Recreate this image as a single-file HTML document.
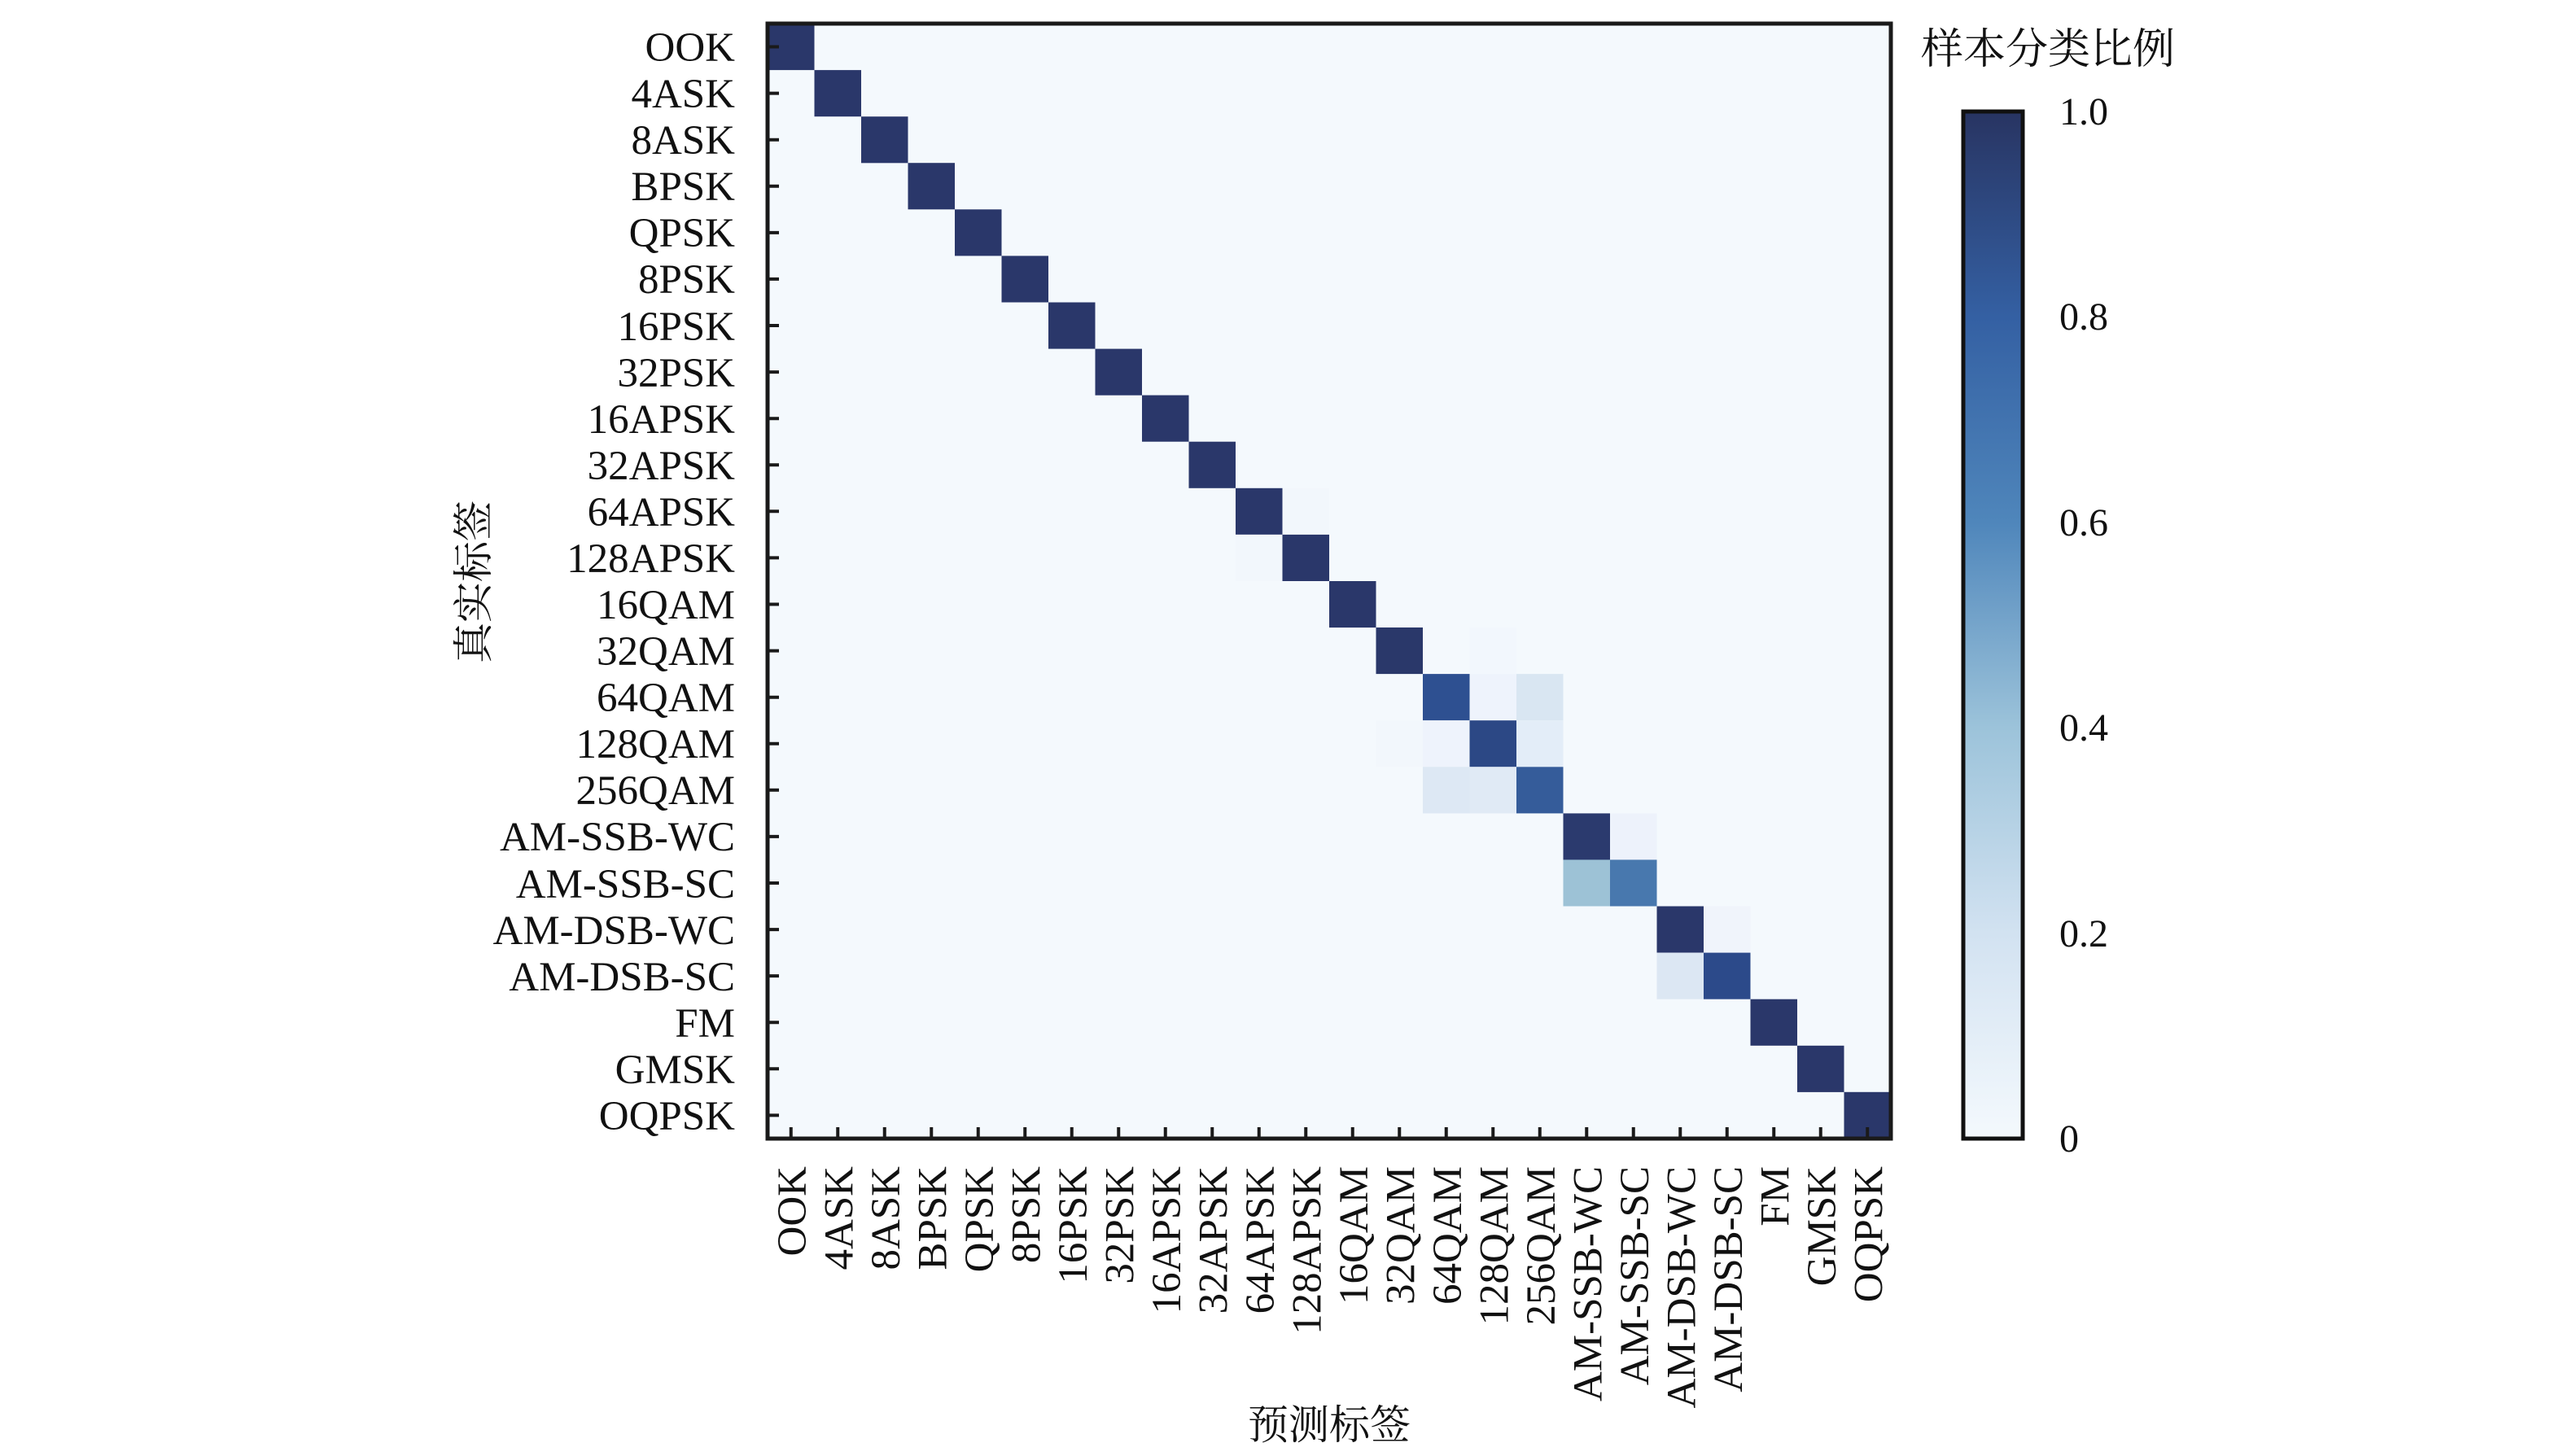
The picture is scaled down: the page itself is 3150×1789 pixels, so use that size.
<!DOCTYPE html>
<html><head><meta charset="utf-8"><style>
html,body{margin:0;padding:0;background:#fff;}
svg text{font-family:"Liberation Serif","Noto Serif CJK SC",serif;fill:#111;}
</style></head><body>
<svg width="3150" height="1784" viewBox="0 0 3150 1784" xmlns="http://www.w3.org/2000/svg">
<defs>
<linearGradient id="cb" x1="0" y1="1" x2="0" y2="0">
<stop offset="0" stop-color="#f4f9fd"/>
<stop offset="0.2" stop-color="#d2e2f1"/>
<stop offset="0.4" stop-color="#9cc3da"/>
<stop offset="0.6" stop-color="#4f86bb"/>
<stop offset="0.8" stop-color="#3460a3"/>
<stop offset="1" stop-color="#283462"/>
</linearGradient>
</defs>
<rect x="943" y="29" width="1380" height="1370" fill="#f4f9fd"/>
<g>
<rect x="943" y="29" width="57.5" height="57.1" fill="#2a376a"/>
<rect x="1000.5" y="86.1" width="57.5" height="57.1" fill="#2a376a"/>
<rect x="1058" y="143.2" width="57.5" height="57.1" fill="#2a376a"/>
<rect x="1115.5" y="200.2" width="57.5" height="57.1" fill="#2a376a"/>
<rect x="1173" y="257.3" width="57.5" height="57.1" fill="#2a376a"/>
<rect x="1230.5" y="314.4" width="57.5" height="57.1" fill="#2a376a"/>
<rect x="1288" y="371.5" width="57.5" height="57.1" fill="#2a376a"/>
<rect x="1345.5" y="428.6" width="57.5" height="57.1" fill="#2a376a"/>
<rect x="1403" y="485.6" width="57.5" height="57.1" fill="#2a376a"/>
<rect x="1460.5" y="542.7" width="57.5" height="57.1" fill="#2a376a"/>
<rect x="1518" y="599.8" width="57.5" height="57.1" fill="#2a376a"/>
<rect x="1575.5" y="599.8" width="57.5" height="57.1" fill="#f2f7fc"/>
<rect x="1518" y="656.9" width="57.5" height="57.1" fill="#f2f7fc"/>
<rect x="1575.5" y="656.9" width="57.5" height="57.1" fill="#2a376a"/>
<rect x="1633" y="714" width="57.5" height="57.1" fill="#2a376a"/>
<rect x="1690.5" y="771" width="57.5" height="57.1" fill="#2a386a"/>
<rect x="1805.5" y="771" width="57.5" height="57.1" fill="#f2f7fd"/>
<rect x="1748" y="828.1" width="57.5" height="57.1" fill="#2e5091"/>
<rect x="1805.5" y="828.1" width="57.5" height="57.1" fill="#eef3fc"/>
<rect x="1863" y="828.1" width="57.5" height="57.1" fill="#d9e6f2"/>
<rect x="1690.5" y="885.2" width="57.5" height="57.1" fill="#f2f7fc"/>
<rect x="1748" y="885.2" width="57.5" height="57.1" fill="#eef3fc"/>
<rect x="1805.5" y="885.2" width="57.5" height="57.1" fill="#2c4885"/>
<rect x="1863" y="885.2" width="57.5" height="57.1" fill="#e3edf8"/>
<rect x="1748" y="942.3" width="57.5" height="57.1" fill="#dde8f4"/>
<rect x="1805.5" y="942.3" width="57.5" height="57.1" fill="#e0eaf5"/>
<rect x="1863" y="942.3" width="57.5" height="57.1" fill="#355c9a"/>
<rect x="1920.5" y="999.4" width="57.5" height="57.1" fill="#2b3a6e"/>
<rect x="1978" y="999.4" width="57.5" height="57.1" fill="#edf2fb"/>
<rect x="1920.5" y="1056.4" width="57.5" height="57.1" fill="#9dc2d6"/>
<rect x="1978" y="1056.4" width="57.5" height="57.1" fill="#4878ae"/>
<rect x="2035.5" y="1113.5" width="57.5" height="57.1" fill="#2a376a"/>
<rect x="2093" y="1113.5" width="57.5" height="57.1" fill="#f0f4fb"/>
<rect x="2035.5" y="1170.6" width="57.5" height="57.1" fill="#dce7f3"/>
<rect x="2093" y="1170.6" width="57.5" height="57.1" fill="#2c4a8a"/>
<rect x="2150.5" y="1227.7" width="57.5" height="57.1" fill="#2a376a"/>
<rect x="2208" y="1284.8" width="57.5" height="57.1" fill="#2a376a"/>
<rect x="2265.5" y="1341.8" width="57.5" height="57.2" fill="#2a376a"/>
</g>
<rect x="943" y="29" width="1380" height="1370" fill="none" stroke="#1a1a1a" stroke-width="5"/>
<g stroke="#1a1a1a" stroke-width="4">
<path d="M943 57.5h14M943 114.6h14M943 171.7h14M943 228.8h14M943 285.9h14M943 342.9h14M943 400h14M943 457.1h14M943 514.2h14M943 571.3h14M943 628.3h14M943 685.4h14M943 742.5h14M943 799.6h14M943 856.7h14M943 913.7h14M943 970.8h14M943 1027.9h14M943 1085h14M943 1142.1h14M943 1199.1h14M943 1256.2h14M943 1313.3h14M943 1370.4h14"/>
<path d="M971.75 1399v-14M1029.25 1399v-14M1086.75 1399v-14M1144.25 1399v-14M1201.75 1399v-14M1259.25 1399v-14M1316.75 1399v-14M1374.25 1399v-14M1431.75 1399v-14M1489.25 1399v-14M1546.75 1399v-14M1604.25 1399v-14M1661.75 1399v-14M1719.25 1399v-14M1776.75 1399v-14M1834.25 1399v-14M1891.75 1399v-14M1949.25 1399v-14M2006.75 1399v-14M2064.25 1399v-14M2121.75 1399v-14M2179.25 1399v-14M2236.75 1399v-14M2294.25 1399v-14"/>
</g>
<g font-size="51" text-anchor="end" transform="translate(0,-2)">
<text x="903" y="77">OOK</text>
<text x="903" y="134">4ASK</text>
<text x="903" y="191">8ASK</text>
<text x="903" y="248">BPSK</text>
<text x="903" y="305">QPSK</text>
<text x="903" y="362">8PSK</text>
<text x="903" y="420">16PSK</text>
<text x="903" y="477">32PSK</text>
<text x="903" y="534">16APSK</text>
<text x="903" y="591">32APSK</text>
<text x="903" y="648">64APSK</text>
<text x="903" y="705">128APSK</text>
<text x="903" y="762">16QAM</text>
<text x="903" y="819">32QAM</text>
<text x="903" y="876">64QAM</text>
<text x="903" y="933">128QAM</text>
<text x="903" y="990">256QAM</text>
<text x="903" y="1047">AM-SSB-WC</text>
<text x="903" y="1105">AM-SSB-SC</text>
<text x="903" y="1162">AM-DSB-WC</text>
<text x="903" y="1219">AM-DSB-SC</text>
<text x="903" y="1276">FM</text>
<text x="903" y="1333">GMSK</text>
<text x="903" y="1390">OQPSK</text>
</g>
<g font-size="51" text-anchor="end">
<text transform="translate(990,1433) rotate(-90)">OOK</text>
<text transform="translate(1047.5,1433) rotate(-90)">4ASK</text>
<text transform="translate(1105,1433) rotate(-90)">8ASK</text>
<text transform="translate(1162.5,1433) rotate(-90)">BPSK</text>
<text transform="translate(1220,1433) rotate(-90)">QPSK</text>
<text transform="translate(1277.5,1433) rotate(-90)">8PSK</text>
<text transform="translate(1335,1433) rotate(-90)">16PSK</text>
<text transform="translate(1392.5,1433) rotate(-90)">32PSK</text>
<text transform="translate(1450,1433) rotate(-90)">16APSK</text>
<text transform="translate(1507.5,1433) rotate(-90)">32APSK</text>
<text transform="translate(1565,1433) rotate(-90)">64APSK</text>
<text transform="translate(1622.5,1433) rotate(-90)">128APSK</text>
<text transform="translate(1680,1433) rotate(-90)">16QAM</text>
<text transform="translate(1737.5,1433) rotate(-90)">32QAM</text>
<text transform="translate(1795,1433) rotate(-90)">64QAM</text>
<text transform="translate(1852.5,1433) rotate(-90)">128QAM</text>
<text transform="translate(1910,1433) rotate(-90)">256QAM</text>
<text transform="translate(1967.5,1433) rotate(-90)">AM-SSB-WC</text>
<text transform="translate(2025,1433) rotate(-90)">AM-SSB-SC</text>
<text transform="translate(2082.5,1433) rotate(-90)">AM-DSB-WC</text>
<text transform="translate(2140,1433) rotate(-90)">AM-DSB-SC</text>
<text transform="translate(2197.5,1433) rotate(-90)">FM</text>
<text transform="translate(2255,1433) rotate(-90)">GMSK</text>
<text transform="translate(2312.5,1433) rotate(-90)">OQPSK</text>
</g>
<text x="1633" y="1768" font-size="50" text-anchor="middle">预测标签</text>
<text transform="translate(599,715) rotate(-90)" font-size="50" text-anchor="middle">真实标签</text>
<rect x="2412" y="137" width="73" height="1262" fill="url(#cb)" stroke="#111" stroke-width="5"/>
<text x="2360" y="78" font-size="52">样本分类比例</text>
<g font-size="48">
<text x="2530" y="153">1.0</text>
<text x="2530" y="405">0.8</text>
<text x="2530" y="658">0.6</text>
<text x="2530" y="910">0.4</text>
<text x="2530" y="1163">0.2</text>
<text x="2530" y="1415">0</text>
</g>
</svg>
</body></html>
